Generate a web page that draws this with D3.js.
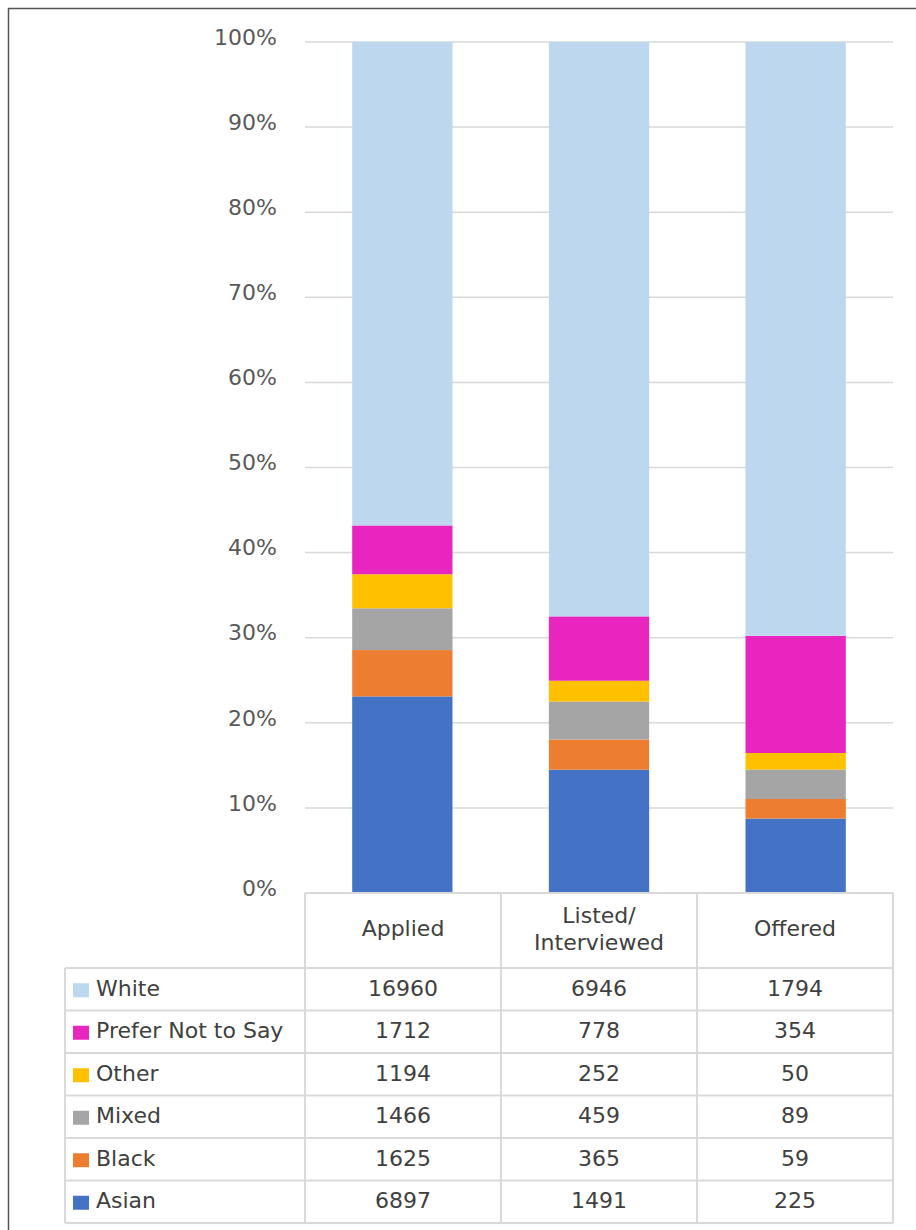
<!DOCTYPE html>
<html><head><meta charset="utf-8">
<script src="https://cdn.jsdelivr.net/npm/d3@7"></script>
<style>body{margin:0;background:#fff;} svg{display:block;font-family:"DejaVu Sans",sans-serif;}</style>
</head><body>
<script>
const categories = ["Applied", "Listed/\nInterviewed", "Offered"];
const seriesNames = ["Asian", "Black", "Mixed", "Other", "Prefer Not to Say", "White"];
const asian = [6897, 1491, 225];
const black = [1625, 365, 59];
const mixed = [1466, 459, 89];
const other = [1194, 252, 50];
const preferNot = [1712, 778, 354];
const white = [16960, 6946, 1794];
const colors = ["#4472C4", "#ED7D31", "#A5A5A5", "#FFC000", "#E925C0", "#BDD7EE"];
const yTicks = [0, 0.1, 0.2, 0.3, 0.4, 0.5, 0.6, 0.7, 0.8, 0.9, 1];

const seriesVals = [asian, black, mixed, other, preferNot, white];
const W = 916, H = 1230;
const FS = 22;
const svg = d3.select("body").append("svg").attr("width", W).attr("height", H);

// outer frame
svg.append("rect").attr("x", 8.5).attr("y", 8.5).attr("width", W + 20).attr("height", H + 20)
  .attr("fill", "none").attr("stroke", "#555").attr("stroke-width", 1.5);

const plot = {l: 305, r: 893, t: 42, b: 893};
const x = d3.scaleBand().domain(d3.range(categories.length)).range([plot.l, plot.r]).paddingInner(0.49).paddingOuter(0.24);
const xCell = d3.scaleBand().domain(d3.range(categories.length)).range([plot.l, plot.r]);
const y = d3.scaleLinear().domain([0, 1]).range([plot.b, plot.t]);

// gridlines
svg.append("g").selectAll("line").data(yTicks).join("line")
  .attr("x1", plot.l).attr("x2", plot.r).attr("y1", d => y(d)).attr("y2", d => y(d))
  .attr("stroke", "#d9d9d9").attr("stroke-width", 1.5);

// y axis labels
const yAxis = d3.axisLeft(y).tickValues(yTicks).tickFormat(d3.format(".0%")).tickSize(0).tickPadding(0);
const ya = svg.append("g").attr("transform", `translate(277,0)`).call(yAxis);
ya.select(".domain").remove();
ya.selectAll("text").attr("font-size", FS).attr("fill", "#595959").attr("font-family", "DejaVu Sans, sans-serif").attr("dy", "0.1em");

// stacked data
const rows = categories.map((c, i) => {
  const o = {i};
  const total = d3.sum(seriesVals, s => s[i]);
  seriesNames.forEach((n, k) => o[n] = seriesVals[k][i] / total);
  return o;
});
const stack = d3.stack().keys(seriesNames)(rows);
svg.append("g").selectAll("g").data(stack).join("g").attr("fill", (d, k) => colors[k])
  .selectAll("rect").data(d => d).join("rect")
  .attr("x", d => x(d.data.i)).attr("width", x.bandwidth())
  .attr("y", d => y(d[1])).attr("height", d => y(d[0]) - y(d[1]));

// data table
const tbl = {l: 65, top: plot.b, headB: 968, rowH: 42.5};
const g = svg.append("g");
const lineC = "#d9d9d9";
const L = (x1, y1, x2, y2) => g.append("line").attr("x1", x1).attr("y1", y1).attr("x2", x2).attr("y2", y2).attr("stroke", lineC).attr("stroke-width", 2);
const tableBottom = tbl.headB + tbl.rowH * seriesNames.length;
L(plot.l, tbl.top, plot.r, tbl.top);
for (let r = 0; r <= seriesNames.length; r++) L(tbl.l, tbl.headB + r * tbl.rowH, plot.r, tbl.headB + r * tbl.rowH);
L(tbl.l, tbl.headB, tbl.l, tableBottom);
[0, 1, 2].forEach(i => L(xCell(i), tbl.top, xCell(i), tableBottom));
L(plot.r, tbl.top, plot.r, tableBottom);

// header labels
categories.forEach((c, i) => {
  const lines = c.split("\n");
  const cx = xCell(i) + xCell.bandwidth() / 2;
  const cy = (tbl.top + tbl.headB) / 2 - 2;
  const t = g.append("text").attr("x", cx).attr("text-anchor", "middle").attr("font-size", FS).attr("fill", "#404040");
  lines.forEach((ln, j) => {
    t.append("tspan").attr("x", cx).attr("y", cy + (j - (lines.length - 1) / 2) * 27).attr("dy", "0.35em").text(ln);
  });
});

// rows (top: White -> bottom: Asian)
const order = d3.range(seriesNames.length).reverse();
order.forEach((k, r) => {
  const cy = tbl.headB + r * tbl.rowH + tbl.rowH / 2;
  g.append("rect").attr("x", 73).attr("y", cy - 6).attr("width", 16).attr("height", 14).attr("fill", colors[k]);
  g.append("text").attr("x", 96).attr("y", cy).attr("dy", "0.3em").attr("font-size", FS).attr("fill", "#404040").text(seriesNames[k]);
  seriesVals[k].forEach((v, i) => {
    g.append("text").attr("x", xCell(i) + xCell.bandwidth() / 2).attr("y", cy).attr("dy", "0.3em")
      .attr("text-anchor", "middle").attr("font-size", FS).attr("fill", "#404040").text(v);
  });
});
</script>
</body></html>
